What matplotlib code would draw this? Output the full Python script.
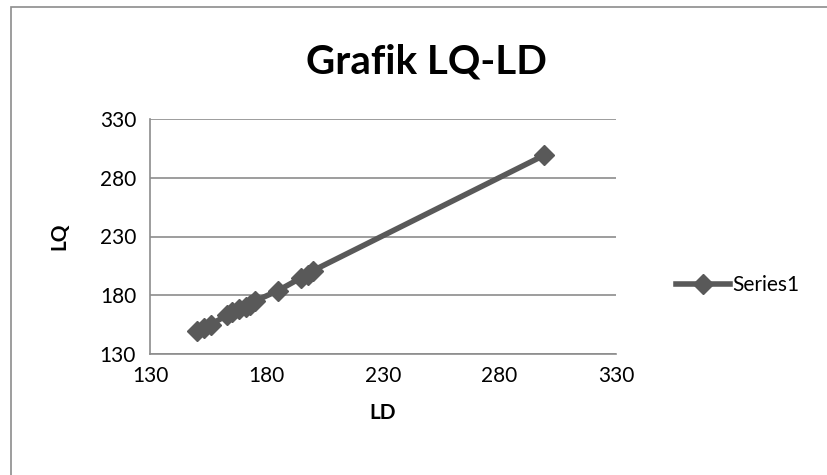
import matplotlib.pyplot as plt
from matplotlib.patches import Rectangle

plt.rcParams['font.family'] = ['Lato', 'DejaVu Sans']

# LD (x) and LQ (y) values
ld = [150, 153, 156, 163, 165, 168, 171, 173, 175, 185, 195, 198, 200, 299]
lq = [150, 152, 155, 163, 166, 168, 170, 172, 175, 184, 195, 197, 201, 299]
ticks = [130, 180, 230, 280, 330]
series_name = 'Series1'

fig = plt.figure(figsize=(8.27, 4.75), dpi=100)
fig.patches.append(Rectangle((11 / 827, -0.01), 1.0, 1 - 7 / 475 + 0.01,
                             transform=fig.transFigure, fill=False,
                             edgecolor='#8c8c8c', linewidth=1.2))

ax = fig.add_axes([150 / 827, 1 - 354 / 475, (616 - 150) / 827, (354 - 119) / 475])
line_color = '#595959'
ax.plot(ld, lq, color=line_color, linewidth=4, marker='D', markersize=10,
        markerfacecolor=line_color, markeredgecolor=line_color, label=series_name)

ax.set_xlim(130, 330)
ax.set_ylim(130, 330)
ax.set_xticks(ticks)
ax.set_yticks(ticks)
ax.tick_params(length=0, labelsize=15)
ax.tick_params(axis='x', pad=9)
ax.tick_params(axis='y', pad=10)
ax.yaxis.grid(True, color='#8c8c8c', linewidth=1.2)
ax.set_axisbelow(True)
for s in ['top', 'right']:
    ax.spines[s].set_visible(False)
for s in ['left', 'bottom']:
    ax.spines[s].set_color('#8c8c8c')
    ax.spines[s].set_linewidth(1.2)

ax.set_xlabel('LD', fontsize=15, fontweight='bold', labelpad=12)
ax.set_ylabel('LQ', fontsize=15, fontweight='bold', labelpad=22)
fig.text(426 / 827, 1 - 62 / 475, 'Grafik LQ-LD', fontsize=29, fontweight='bold',
         ha='center', va='center')

ax.legend(loc='center left', bbox_to_anchor=(1.11, 0.294), frameon=False,
          fontsize=15, handlelength=2.6, handletextpad=0.1, borderaxespad=0)

fig.savefig('out.png', dpi=100)
